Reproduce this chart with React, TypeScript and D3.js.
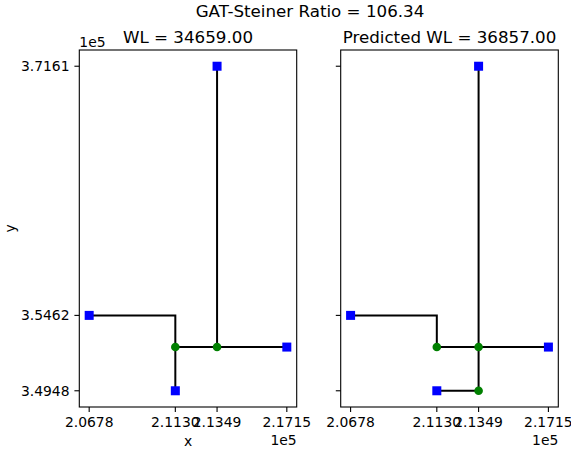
import React from 'react';
import * as d3 from 'd3';

// values in units of 1e5
const xTicks = [2.0678, 2.113, 2.1349, 2.1715];
const yTicks = [3.4948, 3.5462, 3.7161];

const terminals = [
  [2.0678, 3.5462],
  [2.113, 3.4948],
  [2.1349, 3.7161],
  [2.1715, 3.5246],
];

const steinerTrue = [
  [2.113, 3.5246],
  [2.1349, 3.5246],
];
const edgesTrue = [
  [[2.0678, 3.5462], [2.113, 3.5462], [2.113, 3.5246]],
  [[2.113, 3.5246], [2.113, 3.4948]],
  [[2.113, 3.5246], [2.1349, 3.5246]],
  [[2.1349, 3.5246], [2.1349, 3.7161]],
  [[2.1349, 3.5246], [2.1715, 3.5246]],
];

const steinerPred = [
  [2.113, 3.5246],
  [2.1349, 3.5246],
  [2.1349, 3.4948],
];
const edgesPred = [
  [[2.0678, 3.5462], [2.113, 3.5462], [2.113, 3.5246]],
  [[2.113, 3.5246], [2.1349, 3.5246]],
  [[2.1349, 3.5246], [2.1349, 3.7161]],
  [[2.1349, 3.5246], [2.1715, 3.5246]],
  [[2.1349, 3.5246], [2.1349, 3.4948]],
  [[2.113, 3.4948], [2.1349, 3.4948]],
];

const W = 571;
const H = 451;
const top = 50;
const bottom = 407;
const font = 'DejaVu Sans, sans-serif';

const xPad = (xTicks[3] - xTicks[0]) * 0.05;
const yPad = (yTicks[2] - yTicks[0]) * 0.05;

const y = d3.scaleLinear().domain([yTicks[0] - yPad, yTicks[2] + yPad]).range([bottom, top]);
const line = (sx) => d3.line().x((d) => sx(d[0])).y((d) => y(d[1]));

function Panel({ left, right, title, steiner, edges, showY }) {
  const x = d3.scaleLinear().domain([xTicks[0] - xPad, xTicks[3] + xPad]).range([left, right]);
  const path = line(x);
  const cx = (left + right) / 2;
  return (
    <g>
      <text x={cx} y={43} textAnchor="middle" fontSize={16.7} fontFamily={font}>{title}</text>
      {edges.map((e, i) => (
        <path key={i} d={path(e)} fill="none" stroke="#000" strokeWidth={2} />
      ))}
      {terminals.map((p, i) => (
        <rect key={i} x={x(p[0]) - 4.5} y={y(p[1]) - 4.5} width={9} height={9} fill="#0000ff" />
      ))}
      {steiner.map((p, i) => (
        <circle key={i} cx={x(p[0])} cy={y(p[1])} r={4.3} fill="#008000" />
      ))}
      <rect x={left} y={top} width={right - left} height={bottom - top} fill="none" stroke="#000" strokeWidth={1.1} />
      {xTicks.map((t) => (
        <g key={t}>
          <line x1={x(t)} x2={x(t)} y1={bottom} y2={bottom + 4.9} stroke="#000" strokeWidth={1.1} />
          <text x={x(t)} y={bottom + 19.5} textAnchor="middle" fontSize={13.9} fontFamily={font}>{t.toFixed(4)}</text>
        </g>
      ))}
      {yTicks.map((t) => (
        <g key={t}>
          <line x1={left - 4.9} x2={left} y1={y(t)} y2={y(t)} stroke="#000" strokeWidth={1.1} />
          {showY && (
            <text x={left - 9.8} y={y(t) + 5} textAnchor="end" fontSize={13.9} fontFamily={font}>{t.toFixed(4)}</text>
          )}
        </g>
      ))}
      <text x={right} y={445} textAnchor="end" fontSize={13.9} fontFamily={font}>1e5</text>
      {showY && (
        <>
          <text x={left} y={47} fontSize={13.9} fontFamily={font}>1e5</text>
          <text x={cx} y={446} textAnchor="middle" fontSize={13.9} fontFamily={font}>x</text>
          <text transform={`translate(15,${(top + bottom) / 2}) rotate(-90)`} textAnchor="middle" fontSize={13.9} fontFamily={font}>y</text>
        </>
      )}
    </g>
  );
}

export default function App() {
  return (
    <svg width={W} height={H} style={{ position: 'absolute', left: 0, top: 0, background: '#fff' }}>
      <text x={310} y={17} textAnchor="middle" fontSize={16.7} fontFamily={font}>GAT-Steiner Ratio = 106.34</text>
      <Panel left={79.3} right={296.7} title="WL = 34659.00" steiner={steinerTrue} edges={edgesTrue} showY />
      <Panel left={340.7} right={558.3} title="Predicted WL = 36857.00" steiner={steinerPred} edges={edgesPred} showY={false} />
    </svg>
  );
}
